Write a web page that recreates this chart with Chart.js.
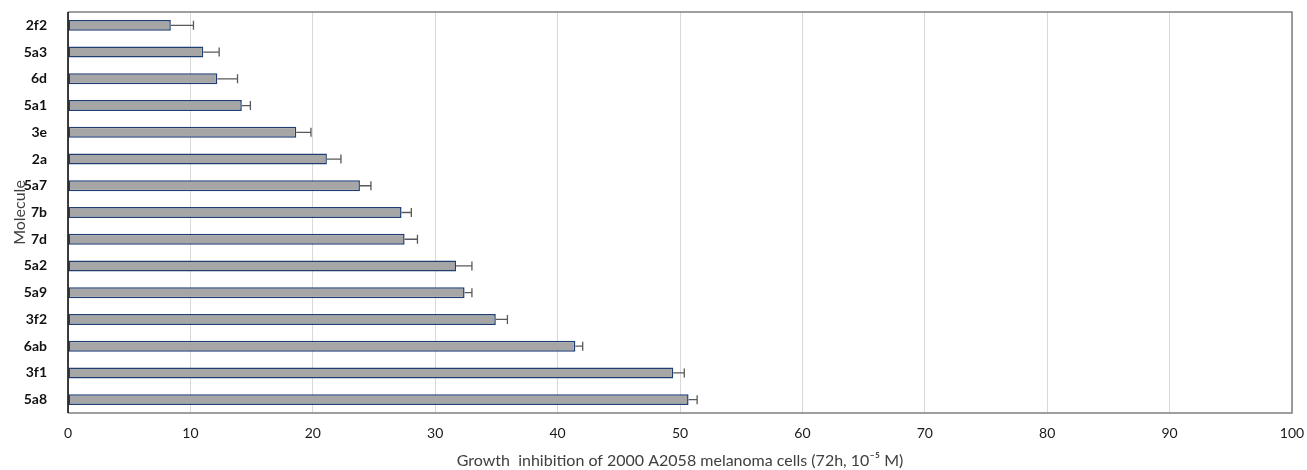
<!DOCTYPE html>
<html lang="en">
<head>
  <meta charset="UTF-8" />
  <title>Growth inhibition chart</title>
  <script src="https://cdn.jsdelivr.net/npm/chart.js"></script>
  <style>
    body { margin: 0; background: #fff; }
    .wrap { width: 1307px; height: 470px; }
  </style>
</head>
<body>
  <div class="wrap"><canvas id="chart"></canvas></div>
  <script>
    // data
    const molecules = ['2f2', '5a3', '6d', '5a1', '3e', '2a', '5a7', '7b', '7d', '5a2', '5a9', '3f2', '6ab', '3f1', '5a8'];
    const inhibition = [8.4, 11.05, 12.2, 14.2, 18.65, 21.15, 23.85, 27.25, 27.5, 31.7, 32.4, 34.95, 41.45, 49.45, 50.7];
    const errors = [1.85, 1.3, 1.65, 0.7, 1.2, 1.15, 0.9, 0.8, 1.05, 1.3, 0.6, 0.95, 0.6, 0.9, 0.7];
    const xTicks = [0, 10, 20, 30, 40, 50, 60, 70, 80, 90, 100];

    // draws the error bars and the plot frame
    const errorBars = {
      id: 'errorBars',
      afterDatasetsDraw(chart) {
        const ctx = chart.ctx;
        const x = chart.scales.x, y = chart.scales.y;
        ctx.save();
        ctx.strokeStyle = '#595959';
        ctx.lineWidth = 1.3;
        inhibition.forEach((v, i) => {
          const x0 = x.getPixelForValue(v);
          const x1 = x.getPixelForValue(v + errors[i]);
          const yc = y.getPixelForValue(i);
          ctx.beginPath();
          ctx.moveTo(x0, yc);
          ctx.lineTo(x1, yc);
          ctx.moveTo(x1, yc - 4.5);
          ctx.lineTo(x1, yc + 4.5);
          ctx.stroke();
        });
        const a = chart.chartArea;
        ctx.strokeStyle = '#808080';
        ctx.lineWidth = 1.5;
        ctx.beginPath();
        ctx.moveTo(a.left, a.top);
        ctx.lineTo(a.right, a.top);
        ctx.lineTo(a.right, a.bottom);
        ctx.lineTo(a.left, a.bottom);
        ctx.stroke();
        ctx.strokeStyle = '#000';
        ctx.beginPath();
        ctx.moveTo(a.left, a.top);
        ctx.lineTo(a.left, a.bottom);
        ctx.stroke();
        ctx.restore();
      }
    };

    new Chart(document.getElementById('chart'), {
      type: 'bar',
      data: {
        labels: molecules,
        datasets: [{
          data: inhibition,
          backgroundColor: '#a6a6a6',
          borderColor: '#1f3f73',
          borderWidth: 1.5,
          borderSkipped: false,
          barPercentage: 0.82,
          categoryPercentage: 0.5
        }]
      },
      options: {
        indexAxis: 'y',
        responsive: true,
        maintainAspectRatio: false,
        animation: false,
        layout: { padding: { top: 12, right: 15, left: 10, bottom: 0 } },
        plugins: { legend: { display: false }, tooltip: { enabled: false } },
        scales: {
          x: {
            min: 0,
            max: 100,
            afterBuildTicks: s => { s.ticks = xTicks.map(v => ({ value: v })); },
            afterFit: s => { s.height = 57; s.paddingLeft = 0; s.paddingRight = 0; },
            grid: { color: '#d9d9d9', lineWidth: 1, drawTicks: false },
            border: { display: false },
            ticks: { color: '#1a1a1a', font: { family: 'Lato', size: 14 }, padding: 12, maxRotation: 0 },
            title: {
              display: true,
              text: 'Growth  inhibition of 2000 A2058 melanoma cells (72h, 10⁻⁵ M)',
              color: '#404040',
              font: { family: 'Lato', size: 16 },
              padding: { top: 1, bottom: 0 }
            }
          },
          y: {
            afterFit: s => { s.width = 58; s.paddingTop = 0; s.paddingBottom = 0; },
            grid: { display: false },
            border: { display: false },
            ticks: { color: '#111', font: { family: 'Lato', size: 14, weight: 'bold' }, padding: 13 },
            title: {
              display: true,
              text: 'Molecule',
              color: '#404040',
              font: { family: 'Lato', size: 16 },
              padding: { top: 0, bottom: 0 }
            }
          }
        }
      },
      plugins: [errorBars]
    });
  </script>
</body>
</html>
